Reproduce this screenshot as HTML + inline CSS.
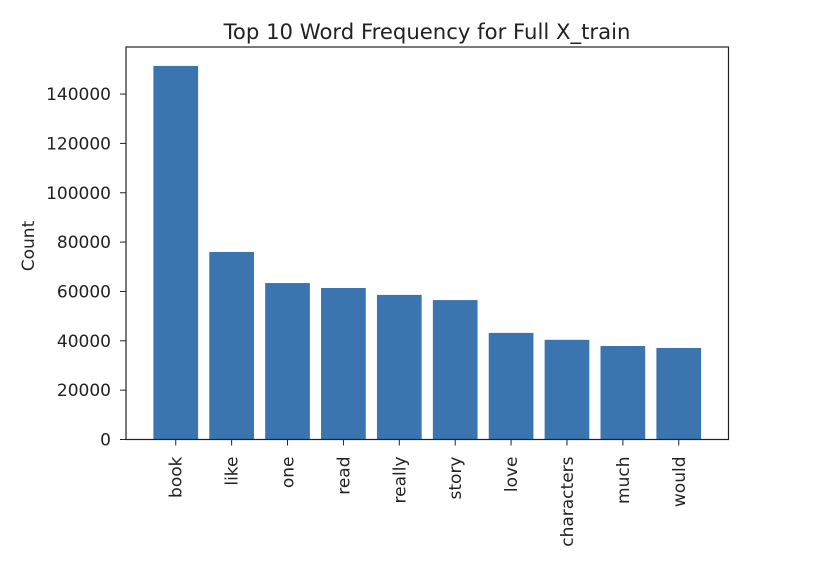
<!DOCTYPE html>
<html><head><meta charset="utf-8"><style>
body{margin:0;background:#fff;}
svg text{font-family:"DejaVu Sans","Liberation Sans",sans-serif;fill:#222;}
</style></head><body>
<svg id="chart" width="828" height="582" xmlns="http://www.w3.org/2000/svg">
<text x="427" y="39" font-size="21.2" text-anchor="middle">Top 10 Word Frequency for Full X_train</text>
<text transform="translate(34,246) rotate(-90)" font-size="17" text-anchor="middle">Count</text>
<g id="bars"></g>
<g id="yticks"></g>
<g id="xticks"></g>
<rect x="126" y="47" width="602.5" height="392.5" fill="none" stroke="#222" stroke-width="1.2"/>
</svg>
<script>
const categories = ["book","like","one","read","really","story","love","characters","much","would"];
const counts = [151400,76000,63400,61400,58600,56500,43200,40400,37900,37100];
const yTickValues = [0,20000,40000,60000,80000,100000,120000,140000];
const NS="http://www.w3.org/2000/svg";
const L=126,R=728.5,B=439.5,pxPer=49.35/20000;
const xmin=-0.89,xmax=9.89;
function x(v){return L+(v-xmin)/(xmax-xmin)*(R-L);}
function y(v){return B-v*pxPer;}
const bw=x(0.8)-x(0);
const bars=document.getElementById('bars'),yt=document.getElementById('yticks'),xt=document.getElementById('xticks');
counts.forEach((c,i)=>{
 const r=document.createElementNS(NS,'rect');
 
 
 r.setAttribute('x',x(i)-bw/2);r.setAttribute('width',bw);
 r.setAttribute('y',y(c));r.setAttribute('height',B-y(c));
 r.setAttribute('fill','#3a75af');
 bars.appendChild(r);
 const t=document.createElementNS(NS,'line');
 
 
 t.setAttribute('x1',x(i));t.setAttribute('x2',x(i));t.setAttribute('y1',B);t.setAttribute('y2',B+6);
 t.setAttribute('stroke','#222');
 xt.appendChild(t);
 const lb=document.createElementNS(NS,'text');
 
 
 lb.setAttribute('transform','translate('+(x(i)+6)+','+(B+17)+') rotate(-90)');
 lb.setAttribute('text-anchor','end');lb.setAttribute('font-size','17');
 lb.textContent=categories[i];
 xt.appendChild(lb);
});
yTickValues.forEach(v=>{
 const t=document.createElementNS(NS,'line');
 
 
 t.setAttribute('x1',L-6);t.setAttribute('x2',L);t.setAttribute('y1',y(v));t.setAttribute('y2',y(v));
 t.setAttribute('stroke','#222');
 yt.appendChild(t);
 const lb=document.createElementNS(NS,'text');
 
 
 lb.setAttribute('x',L-15);lb.setAttribute('y',y(v)+6);
 lb.setAttribute('text-anchor','end');lb.setAttribute('font-size','17');
 lb.textContent=v;
 yt.appendChild(lb);
});
</script>
</body></html>
